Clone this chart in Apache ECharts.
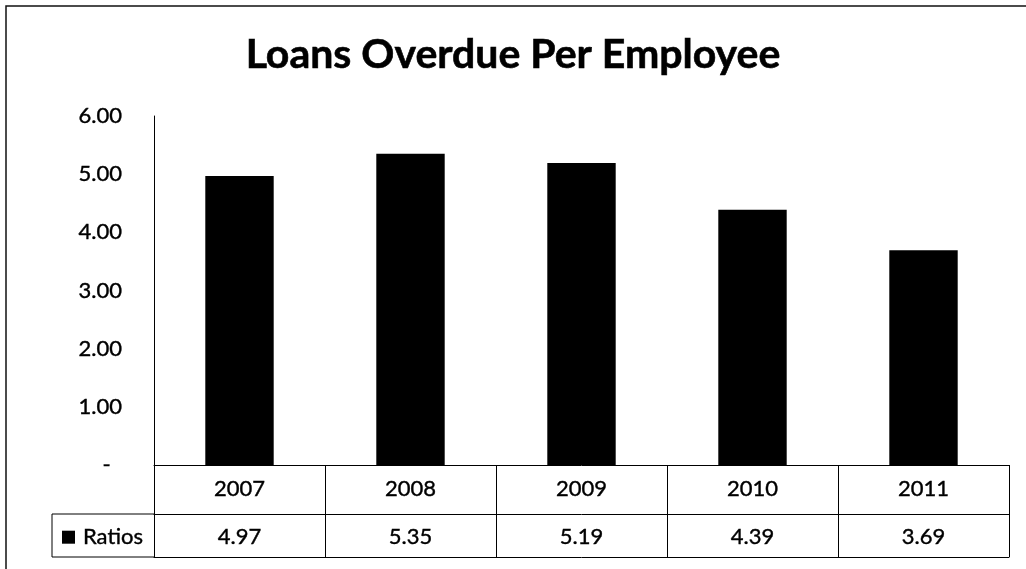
<!DOCTYPE html>
<html>
<head>
<meta charset="utf-8">
<script src="https://cdn.jsdelivr.net/npm/echarts@6/dist/echarts.min.js"></script>
<style>
  html, body { margin: 0; padding: 0; background: #fff; }
  #chart { width: 1026px; height: 569px; }
</style>
</head>
<body>
<div id="chart"></div>
<script>
// Loans overdue per employee, by year
const years = ['2007', '2008', '2009', '2010', '2011'];
const ratios = [4.97, 5.35, 5.19, 4.39, 3.69];
const seriesName = 'Ratios';
const yMin = 0;
const yMax = 6;
const yStep = 1;

const FONT = 'Lato, "Open Sans", sans-serif';

// plot area edges
const G = { left: 154, right: 17, top: 116, bottom: 104 };
const W = 1026, H = 569;
const axisY = H - G.bottom;      // category axis line
const rowH1 = 49;                // year row height
const rowH2 = 43;                // value row height
const cellLeft = 52;             // left edge of the series-name cell

const chart = echarts.init(document.getElementById('chart'), null, { renderer: 'canvas' });

const txt = {
  fontFamily: FONT, fontSize: 22, color: '#000',
  textBorderColor: '#000', textBorderWidth: 0.4
};
const blackLine = { color: '#000', width: 1 };

chart.setOption({
  backgroundColor: '#fff',
  animation: false,
  title: {
    text: 'Loans Overdue Per Employee',
    left: 'center',
    top: 29,
    textStyle: {
      fontFamily: FONT, fontWeight: 'bold', fontSize: 41, color: '#000',
      textBorderColor: '#000', textBorderWidth: 0.6
    }
  },
  legend: {
    data: [seriesName],
    left: 57,
    top: 521,
    icon: 'rect',
    itemWidth: 13,
    itemHeight: 13,
    selectedMode: false,
    textStyle: Object.assign({ padding: [0, 0, 0, 3] }, txt)
  },
  grid: { left: G.left, right: G.right, top: G.top, bottom: G.bottom },
  xAxis: [
    {
      type: 'category',
      data: years,
      axisLine: { show: true, lineStyle: blackLine },
      axisTick: { show: true, length: rowH1 + rowH2, lineStyle: blackLine },
      axisLabel: Object.assign({ margin: 13 }, txt),
      splitLine: { show: false }
    },
    {
      type: 'category',
      data: ratios.map(v => v.toFixed(2)),
      position: 'bottom',
      offset: rowH1,
      axisLine: { show: true, lineStyle: blackLine },
      axisTick: { show: false },
      axisLabel: Object.assign({ margin: 12 }, txt),
      splitLine: { show: false }
    },
    {
      type: 'category',
      data: years,
      position: 'bottom',
      offset: rowH1 + rowH2,
      axisLine: { show: true, lineStyle: blackLine },
      axisTick: { show: false },
      axisLabel: { show: false },
      splitLine: { show: false }
    }
  ],
  yAxis: {
    type: 'value',
    min: yMin,
    max: yMax,
    interval: yStep,
    axisLine: { show: true, lineStyle: blackLine },
    axisTick: { show: false },
    splitLine: { show: false },
    axisLabel: Object.assign({
      margin: 32,
      formatter: v => (v === 0 ? '-  ' : v.toFixed(2))
    }, txt)
  },
  series: [{
    name: seriesName,
    type: 'bar',
    xAxisIndex: 0,
    data: ratios,
    barWidth: '40%',
    itemStyle: { color: '#000' }
  }],
  graphic: [
    {
      // chart frame
      type: 'rect',
      shape: { x: 6, y: 6, width: W + 40, height: H + 40 },
      style: { fill: 'none', stroke: '#111', lineWidth: 1.5 },
      silent: true
    },
    {
      // box around the series-name cell
      type: 'polyline',
      shape: {
        points: [
          [G.left, axisY + rowH1],
          [cellLeft, axisY + rowH1],
          [cellLeft, axisY + rowH1 + rowH2],
          [G.left, axisY + rowH1 + rowH2]
        ]
      },
      style: { fill: 'none', stroke: '#000', lineWidth: 1 },
      silent: true
    }
  ]
});
</script>
</body>
</html>
